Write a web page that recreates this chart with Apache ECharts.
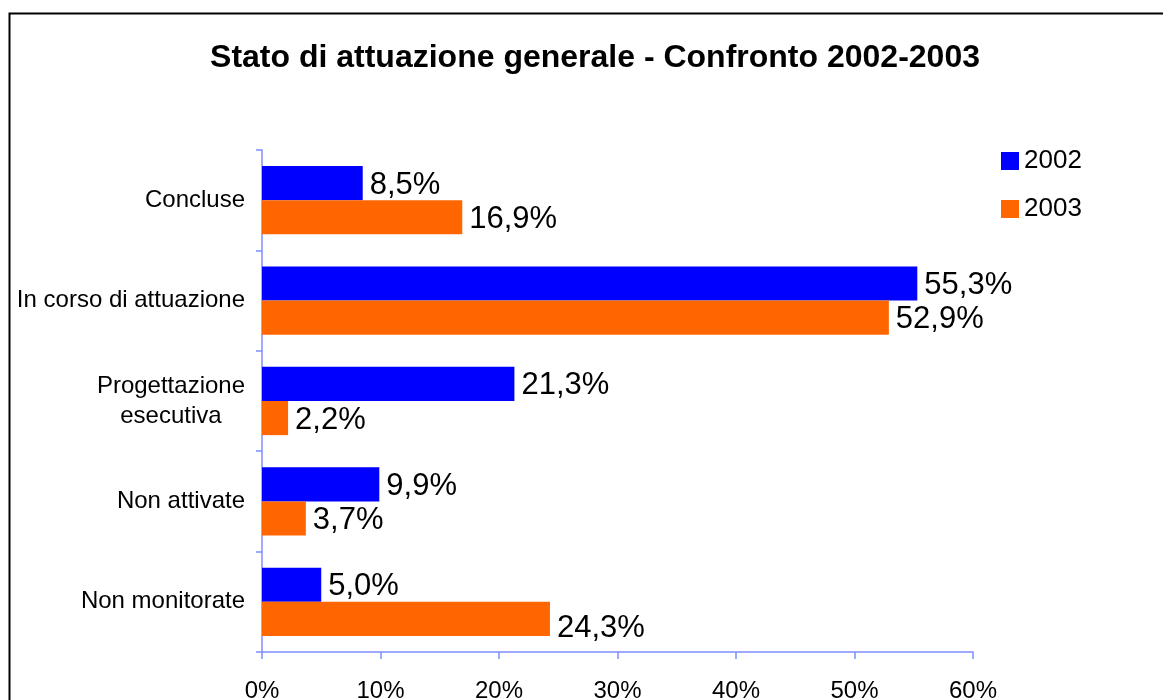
<!DOCTYPE html>
<html>
<head>
<meta charset="utf-8">
<script src="https://cdn.jsdelivr.net/npm/echarts@6/dist/echarts.min.js"></script>
<style>
html,body{margin:0;padding:0;background:#fff;}
#main{width:1163px;height:700px;}
</style>
</head>
<body>
<div id="main"></div>
<script>
// categories, top to bottom
var categories = ['Concluse', 'In corso di attuazione', 'Progettazione\nesecutiva', 'Non attivate', 'Non monitorate'];
var values2002 = [8.5, 55.3, 21.3, 9.9, 5.0];
var values2003 = [16.9, 52.9, 2.2, 3.7, 24.3];
var xTicks = [0, 10, 20, 30, 40, 50, 60];

var myChart = echarts.init(document.getElementById('main'));

var axisColor = '#7f8fff';
var font = 'Liberation Sans, Arial';

function pctLabel(p) {
    return p.value.toFixed(1).replace('.', ',') + '%';
}

// last 2003 label sits a bit lower in the original
var data2003 = values2003.map(function (v, i) {
    if (i == values2003.length - 1) {
        return {value: v, label: {offset: [0, 10]}};
    }
    return v;
});

myChart.setOption({
    backgroundColor: '#fff',
    animation: false,
    title: {
        text: 'Stato di attuazione generale - Confronto 2002-2003',
        left: 590,
        textAlign: 'center',
        top: 37,
        textStyle: {fontFamily: font, fontSize: 32, fontWeight: 'bold', color: '#000'}
    },
    graphic: [{
        type: 'rect',
        shape: {x: 9.5, y: 13.5, width: 1200, height: 800},
        style: {fill: 'none', stroke: '#000', lineWidth: 2}
    }],
    legend: {
        orient: 'vertical',
        left: 996,
        top: 143,
        itemWidth: 18,
        itemHeight: 18,
        itemGap: 22,
        icon: 'rect',
        textStyle: {fontFamily: font, fontSize: 26, color: '#000', padding: [0, 0, 0, 0]},
        data: ['2002', '2003']
    },
    grid: {left: 262, right: 190, top: 150, bottom: 48, containLabel: false, outerBoundsMode: 'none'},
    xAxis: {
        type: 'value',
        min: xTicks[0],
        max: xTicks[xTicks.length - 1],
        interval: 10,
        splitLine: {show: false},
        axisLine: {show: true, lineStyle: {color: axisColor, width: 1.5}},
        axisTick: {show: true, length: 7, lineStyle: {color: axisColor, width: 1.5}},
        axisLabel: {
            margin: 27,
            fontFamily: font,
            fontSize: 24,
            color: '#000',
            formatter: function (v) { return v + '%'; }
        }
    },
    yAxis: {
        type: 'category',
        inverse: true,
        data: categories,
        axisLine: {show: true, lineStyle: {color: axisColor, width: 1.5}},
        axisTick: {show: true, length: 6, lineStyle: {color: axisColor, width: 1.5}},
        axisLabel: {
            margin: 17,
            fontFamily: font,
            fontSize: 24,
            color: '#000',
            lineHeight: 30,
            formatter: function (v) {
                return v.split('\n').map(function (s) { return '{c|' + s + '}'; }).join('\n');
            },
            rich: {c: {align: 'center', fontFamily: font, fontSize: 24, color: '#000', lineHeight: 30}}
        }
    },
    series: [{
        name: '2002',
        type: 'bar',
        data: values2002,
        barGap: '0%',
        barCategoryGap: '32%',
        itemStyle: {color: '#0000ff'},
        label: {
            show: true, position: 'right', distance: 7, offset: [0, 2],
            fontFamily: font, fontSize: 31, color: '#000',
            formatter: pctLabel
        }
    }, {
        name: '2003',
        type: 'bar',
        data: data2003,
        itemStyle: {color: '#ff6600'},
        label: {
            show: true, position: 'right', distance: 7, offset: [0, 2],
            fontFamily: font, fontSize: 31, color: '#000',
            formatter: pctLabel
        }
    }]
});
</script>
</body>
</html>
